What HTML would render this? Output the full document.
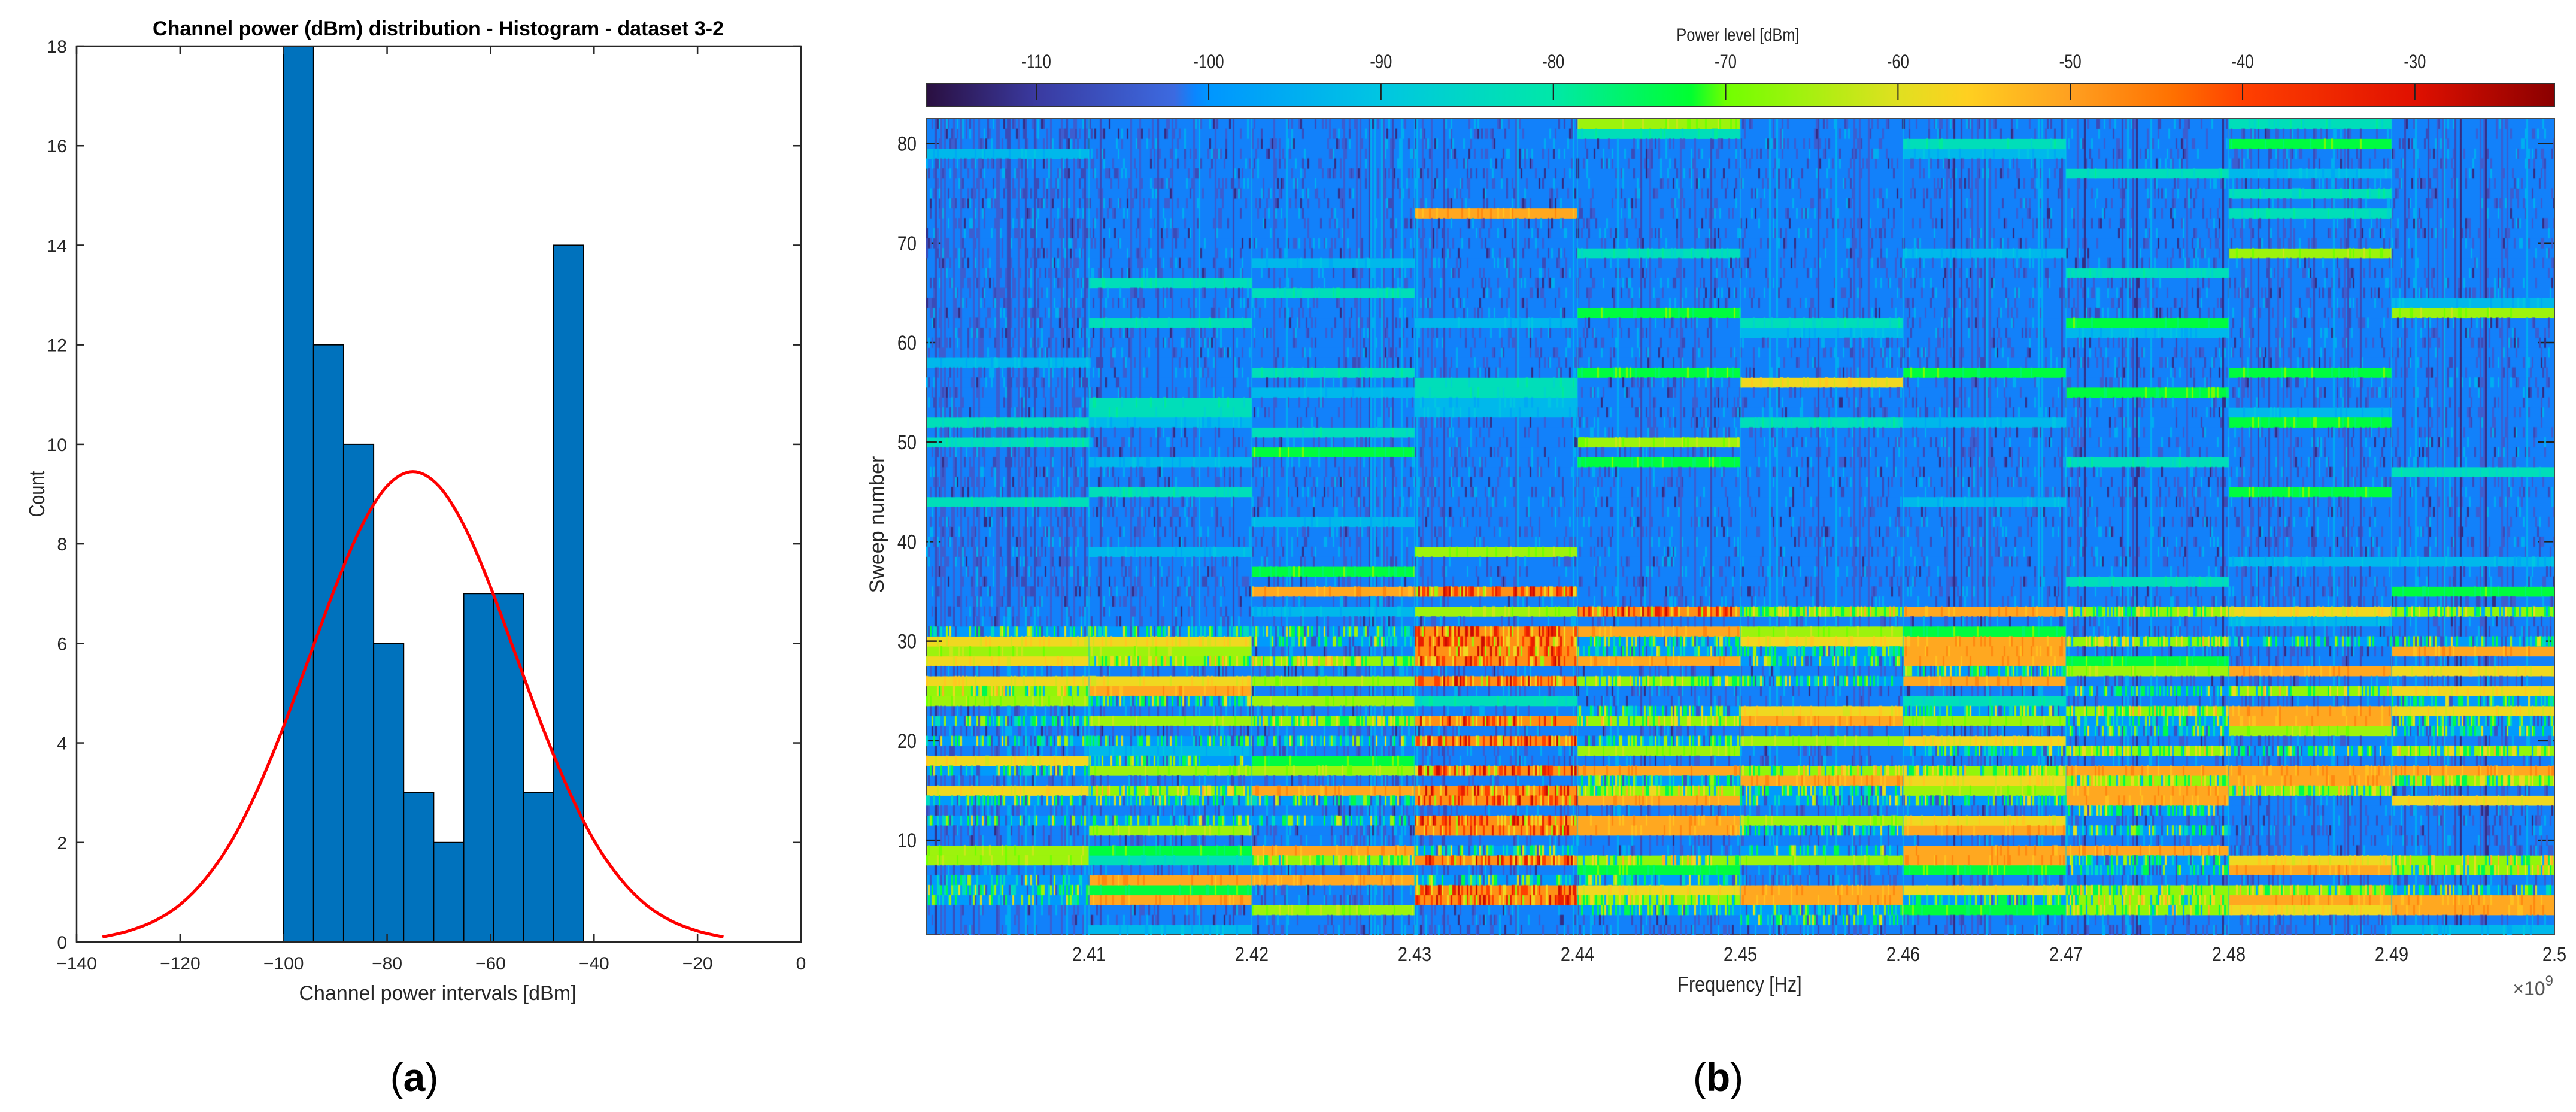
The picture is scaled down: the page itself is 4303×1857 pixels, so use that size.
<!DOCTYPE html>
<html><head><meta charset="utf-8"><style>
html,body{margin:0;padding:0;background:#fff;}
#wrap{position:relative;width:4303px;height:1857px;overflow:hidden;}
svg{position:absolute;left:0;top:0;}
canvas{position:absolute;left:1547px;top:198px;pointer-events:none;}
text{font-family:"Liberation Sans",Arial,sans-serif;}
</style></head><body>
<div id="wrap">
<svg id="svg" width="4303" height="1857" viewBox="0 0 4303 1857">
  <defs><linearGradient id="cbgrad" x1="0" y1="0" x2="1" y2="0"></linearGradient></defs>
  <g id="left"></g>
  <g id="right"></g>
</svg>
<canvas id="tex" width="2720" height="1363"></canvas>
</div>
<script>
// ---------- Histogram data ----------
const binEdgeStart = -100;
const binWidth = 5.8;
const binCounts = [18, 12, 10, 6, 3, 2, 7, 7, 3, 14];
const xTicks = [-140, -120, -100, -80, -60, -40, -20, 0];
const yTicks = [0, 2, 4, 6, 8, 10, 12, 14, 16, 18];
const fitX = [-135,-130,-125,-120,-115,-110,-105,-100,-95,-90,-85,-80,-75,-70,-65,-60,-55,-50,-45,-40,-35,-30,-25,-20,-15];
const fitY = [0.10,0.22,0.42,0.75,1.28,2.04,3.07,4.33,5.73,7.13,8.34,9.16,9.45,9.16,8.34,7.13,5.73,4.33,3.07,2.04,1.28,0.75,0.42,0.22,0.10];

// ---------- Spectrogram data ----------
const freqTicks = [2.41,2.42,2.43,2.44,2.45,2.46,2.47,2.48,2.49,2.5];
const sweepTicks = [10,20,30,40,50,60,70,80];
const cbTicks = [-110,-100,-90,-80,-70,-60,-50,-40,-30];
const segEdges = [2.4004,2.41,2.42,2.43,2.44,2.45,2.46,2.47,2.48,2.49,2.5];
const codeLevels = {B:-101,C:-93,T:-83,G:-73,L:-66,Y:-58,O:-51,n:-99,g:-67,r:-48};
// rows 1..82 (index 0 = sweep 1); each char = one 10 MHz segment
const sweepRows = [
"BCBBBBBBBC","BBBBBnBBBB","BBLBnnGgYO","nOBrgOngOO","nGBrYOYggn",
"nOOnnBBBBB","BBBBGBGnOg","LTgrgLOnYg","LGOnBnOOBB","BBBBBBBBBB",
"BLBrOnOnBB","nnnrOLYBBB","BBBBBBBnBB","nnnrOnnOBY","YgOrgnLOgB",
"BBBBnOYgOg","nLLrOggOOO","YnGBBBBBBB","BCBBLBngng","nnnrnLYBBB",
"BBBBBBBnLn","nLgrgOLnOn","BBBBnYngOY","LnLTBBTBBn","gOBBBBBngY",
"YYLrgnOBBB","BBBBBBnLOY","YggrOnOGBB","LLBrnnOBBO","YYnrnYOgnn",
"nnnrOLGBBB","BBBBBBBBCB","BBCLrgOgYg","BBBBBBBBBB","BBOrBBBBBG",
"BBBBBBBTBB","BBGBBBBBBB","BBBBBBBBCC","BCBLBBBBBB","BBBBBBBBBB",
"BBBBBBBBBB","BBCBBBBBBB","BBBBBBBBBB","TBBBBBCBBB","BTBBBBBBGB",
"BBBBBBBBBB","BBBBBBBBBT","BCBBGBBTBB","BBGBBBBBBB","TBBBLBBBBB",
"BBTBBBBBBB","TCBBBTCBGB","BTBCBBBBCB","BTBCBBBBBB","BBCTBBBGBB",
"BBBTBYBBBB","BBTBGBGBGB","CBBBBBBBBB","BBBBBBBBBB","BBBBBBBBBB",
"BBBBBCBCBB","BTBCBTBGBB","BBBBGBBBBL","BBBBBBBBBC","BBTBBBBBBB",
"BTBBBBBBBB","BBBBBBBTBB","BBCBBBBBBB","BBBBTBCBLB","BBBBBBBBBB",
"BBBBBBBBBB","BBBBBBBBBB","BBBOBBBBTB","BBBBBBBBBB","BBBBBBBBTB",
"BBBBBBBBBB","BBBBBBBTCB","BBBBBBBBBB","CBBBBBCBBB","BBBBBBTBGB",
"BBBBTBBBBB","BBBBLBBBTB"];
const cmapLevels = [-116.4,-110,-102,-100.8,-100,-90,-80,-72,-70,-60,-56,-50,-44,-40,-30,-21.9];
const cmapColors = ["#2a0f40","#3a3aa0","#3c6ae0","#0a86ff","#0096ff","#00c6e2","#00e8a8","#00ff30","#70ff00","#e0e020","#ffd020","#ffa020","#ff7000","#ff4000","#e01000","#8a0000"];

const NS="http://www.w3.org/2000/svg";
function mk(tag, attrs, parent, txt){
  const e=document.createElementNS(NS,tag);
  for(const k in attrs) e.setAttribute(k,attrs[k]);
  if(txt!==undefined) e.textContent=txt;
  parent.appendChild(e); return e;
}
function hex2rgb(h){return [parseInt(h.substr(1,2),16),parseInt(h.substr(3,2),16),parseInt(h.substr(5,2),16)];}
function cmap(v){
  if(v<=cmapLevels[0]) return hex2rgb(cmapColors[0]);
  for(let i=1;i<cmapLevels.length;i++){
    if(v<=cmapLevels[i]){
      const t=(v-cmapLevels[i-1])/(cmapLevels[i]-cmapLevels[i-1]);
      const a=hex2rgb(cmapColors[i-1]), b=hex2rgb(cmapColors[i]);
      return [0,1,2].map(j=>Math.round(a[j]+(b[j]-a[j])*t));
    }
  }
  return hex2rgb(cmapColors[cmapColors.length-1]);
}
function rgbs(c){return "rgb("+c[0]+","+c[1]+","+c[2]+")";}

// ================= LEFT: histogram =================
(function(){
  const g=document.getElementById('left');
  const L=128,R=1338,T=77,B=1573;
  const xs=v=>L+(v-(-140))/140*(R-L);
  const ys=v=>B-v/18*(B-T);
  binCounts.forEach((c,i)=>{
    const x0=xs(binEdgeStart+i*binWidth), x1=xs(binEdgeStart+(i+1)*binWidth);
    const r=mk('rect',{x:x0,y:ys(c),width:x1-x0,height:B-ys(c),fill:'#0072bd',stroke:'#000','stroke-width':2},g);
    
    
  });
  const pts=fitX.map((x,i)=>[xs(x),ys(fitY[i])]);
  let d='M'+pts[0][0]+','+pts[0][1];
  for(let i=0;i<pts.length-1;i++){
    const p0=pts[Math.max(0,i-1)],p1=pts[i],p2=pts[i+1],p3=pts[Math.min(pts.length-1,i+2)];
    const c1=[p1[0]+(p2[0]-p0[0])/6,p1[1]+(p2[1]-p0[1])/6];
    const c2=[p2[0]-(p3[0]-p1[0])/6,p2[1]-(p3[1]-p1[1])/6];
    d+=' C'+c1[0]+','+c1[1]+' '+c2[0]+','+c2[1]+' '+p2[0]+','+p2[1];
  }
  const cv=mk('path',{d:d,fill:'none',stroke:'#ff0000','stroke-width':5},g);
  
  
  const fr=mk('rect',{x:L,y:T,width:R-L,height:B-T,fill:'none',stroke:'#262626','stroke-width':2.5},g);
  
  
  xTicks.forEach(v=>{
    const x=xs(v);
    mk('line',{x1:x,y1:B,x2:x,y2:B-13,stroke:'#262626','stroke-width':2.5},g);
    mk('line',{x1:x,y1:T,x2:x,y2:T+13,stroke:'#262626','stroke-width':2.5},g);
    const t=mk('text',{x:x,y:1619,'text-anchor':'middle','font-size':30,fill:'#262626'},g,String(v).replace('-','\u2212'));
    
    
  });
  yTicks.forEach(v=>{
    const y=ys(v);
    mk('line',{x1:L,y1:y,x2:L+13,y2:y,stroke:'#262626','stroke-width':2.5},g);
    mk('line',{x1:R,y1:y,x2:R-13,y2:y,stroke:'#262626','stroke-width':2.5},g);
    const t=mk('text',{x:112,y:y+11,'text-anchor':'end','font-size':30,fill:'#262626'},g,String(v));
    
    
  });
  const ti=mk('text',{x:732,y:59,'text-anchor':'middle','font-size':34,'font-weight':'bold',fill:'#000'},g,'Channel power (dBm) distribution - Histogram - dataset 3-2');
  
  
  const xl=mk('text',{x:731,y:1670,'text-anchor':'middle','font-size':34,fill:'#262626'},g,'Channel power intervals [dBm]');
  
  
  const yl=mk('text',{x:0,y:0,'text-anchor':'middle','font-size':36,fill:'#262626',transform:'translate(74,825) rotate(-90) scale(0.8,1)'},g,'Count');
  
  
  const pa=mk('text',{x:692,y:1822,'text-anchor':'middle','font-size':66,fill:'#000','font-family':'Liberation Serif, serif'},g);
  
  
  pa.innerHTML='(<tspan font-weight="bold">a</tspan>)';
})();

// ================= RIGHT: spectrogram =================
(function(){
  const g=document.getElementById('right');
  const X0=1547,X1=4267,Y0=198,Y1=1561;
  const xf=f=>X1-(2.5-f)*27200;
  const ysw=s=>Y1-(s-0.5)/82*(Y1-Y0);
  const grad=document.getElementById('cbgrad');
  const cbMin=cmapLevels[0], cbMax=cmapLevels[cmapLevels.length-1];
  cmapLevels.forEach((lv,i)=>{
    mk('stop',{offset:((lv-cbMin)/(cbMax-cbMin)*100)+'%','stop-color':cmapColors[i]},grad);
  });
  const cbx=v=>X0+(v-cbMin)/(cbMax-cbMin)*(X1-X0);
  const cb=mk('rect',{x:X0,y:140,width:X1-X0,height:38,fill:'url(#cbgrad)',stroke:'#333','stroke-width':2},g);
  
  
  cbTicks.forEach(v=>{
    const x=cbx(v);
    mk('line',{x1:x,y1:141,x2:x,y2:167,stroke:'#222','stroke-width':2},g);
    const t=mk('text',{x:x,y:114,'text-anchor':'middle','font-size':32,fill:'#262626',transform:'translate('+x+',0) scale(0.8,1) translate('+(-x)+',0)'},g,String(v));
    
    
  });
  const ct=mk('text',{x:2903,y:68,'text-anchor':'middle','font-size':30,fill:'#262626',transform:'translate(2903,0) scale(0.85,1) translate(-2903,0)'},g,'Power level [dBm]');
  
  

  const hm=mk('g',{},g);
  
  
  sweepRows.forEach((row,ri)=>{
    const s=ri+1;
    const yTop=ysw(s+0.5), yBot=ysw(s-0.5);
    for(let k=0;k<10;k++){
      const code=row[k];
      const x0=k===0?X0:xf(segEdges[k]), x1=xf(segEdges[k+1]);
      const c=rgbs(cmap(codeLevels[code]));
      const r=mk('rect',{x:x0,y:yTop,width:x1-x0+0.6,height:yBot-yTop+0.6,fill:c},hm);
      
      
    }
  });
  const fr=mk('rect',{x:X0,y:Y0,width:X1-X0,height:Y1-Y0,fill:'none',stroke:'#4a4a4a','stroke-width':2},g);
  
  
  sweepTicks.forEach(v=>{
    const y=ysw(v);
    mk('line',{x1:X0,y1:y,x2:X0+27,y2:y,stroke:'#222','stroke-width':2.5},g);
    mk('line',{x1:X1,y1:y,x2:X1-27,y2:y,stroke:'#222','stroke-width':2.5},g);
    const t=mk('text',{x:1531,y:y+12,'text-anchor':'end','font-size':34,fill:'#262626',transform:'translate(1531,0) scale(0.85,1) translate(-1531,0)'},g,String(v));
    
    
  });
  freqTicks.forEach(v=>{
    const x=xf(v);
    const t=mk('text',{x:x,y:1605,'text-anchor':'middle','font-size':34,fill:'#262626',transform:'translate('+x+',0) scale(0.85,1) translate('+(-x)+',0)'},g,String(v));
    
    
  });
  const xl=mk('text',{x:2906,y:1656,'text-anchor':'middle','font-size':36,fill:'#262626',transform:'translate(2906,0) scale(0.85,1) translate(-2906,0)'},g,'Frequency [Hz]');
  
  
  const ex=mk('text',{x:4265,y:1662,'text-anchor':'end','font-size':32,fill:'#555'},g);
  
  
  ex.innerHTML='\u00d710<tspan dy="-16" font-size="24">9</tspan>';
  const yl=mk('text',{x:0,y:0,'text-anchor':'middle','font-size':34,fill:'#262626',transform:'translate(1476,876) rotate(-90)'},g,'Sweep number');
  
  
  const pb=mk('text',{x:2870,y:1822,'text-anchor':'middle','font-size':66,fill:'#000','font-family':'Liberation Serif, serif'},g);
  
  
  pb.innerHTML='(<tspan font-weight="bold">b</tspan>)';

  // decorative noise texture over cells
  const cvs=document.getElementById('tex');
  const ctx=cvs.getContext('2d');
  const H=Y1-Y0;
  function hs(a,b){let h=(a*374761393+b*668265263)^0x5bd1e995;h=Math.imul(h^(h>>>13),1274126177);h=h^(h>>>16);return ((h>>>0)%10000)/10000;}
  const SW=3;
  const palettes={
    B:[[-104,0.09],[-107,0.04],[-95,0.05],[-112,0.015]],
    C:[[-96,0.08],[-90,0.06]],
    T:[[-86,0.08],[-79,0.06]],
    G:[[-76,0.08],[-69,0.06]],
    L:[[-70,0.08],[-62,0.06]],
    Y:[[-55,0.1],[-61,0.08]],
    O:[[-47,0.1],[-54,0.08]],
    n:[[-84,0.14],[-74,0.14],[-66,0.08],[-60,0.05],[-106,0.08]],
    g:[[-74,0.15],[-58,0.15],[-95,0.08],[-52,0.05]],
    r:[[-40,0.15],[-33,0.1],[-58,0.12],[-66,0.06],[-28,0.05]]
  };
  sweepRows.forEach((row,ri)=>{
    const s=ri+1;
    const yTop=ysw(s+0.5)-Y0, yBot=ysw(s-0.5)-Y0;
    for(let k=0;k<10;k++){
      const code=row[k];
      const x0=(k===0?X0:xf(segEdges[k]))-X0, x1=xf(segEdges[k+1])-X0;
      const pal=palettes[code];
      for(let x=x0;x<x1;x+=SW){
        const col=Math.floor(x/SW);
        let u=hs(col,s*7+1);
        if(code==='B' && hs(col,999)<0.12) u=hs(col,1000)*0.2;
        let acc=0;
        for(const p of pal){
          let pr=p[1];
          if(code==='B' && k===0 && s>33) pr*=1.5;
          acc+=pr;
          if(u<acc){
            ctx.fillStyle=rgbs(cmap(p[0]));
            ctx.fillRect(x,yTop,SW,yBot-yTop+0.5);
            break;
          }
        }
      }
    }
  });
  ctx.fillStyle='rgba(0,200,230,0.5)';
  for(let k=1;k<10;k++){ctx.fillRect(xf(segEdges[k])-X0-1,0,2,H);}
})();
</script>
</body></html>
